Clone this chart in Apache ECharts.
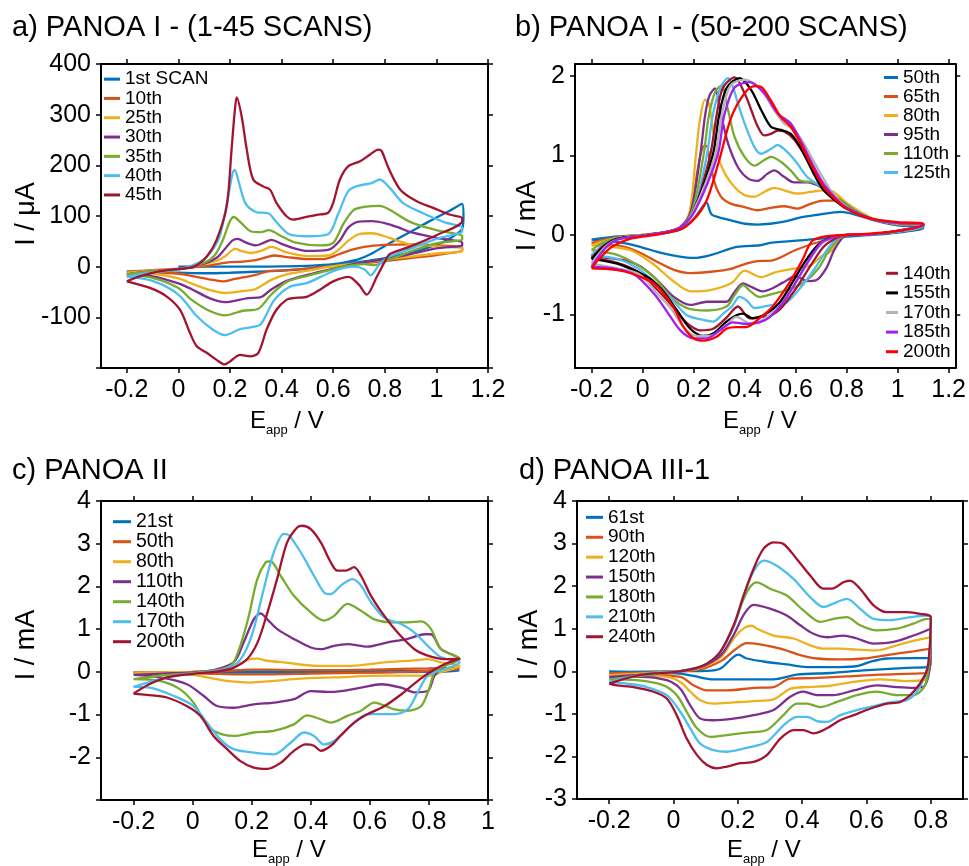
<!DOCTYPE html>
<html><head><meta charset="utf-8">
<script src="https://cdn.jsdelivr.net/npm/echarts@6/dist/echarts.min.js"></script>
<style>html,body{margin:0;padding:0;background:#fff}#c{width:969px;height:866px}</style>
</head><body><div id="c"></div>
<script>
// ---------------- DATA ----------------
// Panel a: PANOA I (1-45 scans), current in µA
const aNames = ['1st SCAN','10th','25th','30th','35th','40th','45th'];
const a01 = [[0,0],[0.1,0],[0.2,0],[0.3,0],[0.4,0.5],[0.5,1.5],[0.55,3],[0.6,5],[0.65,9],[0.7,15],[0.75,26],[0.8,41],[0.85,55],[0.9,69],[0.95,83],[1.0,97],[1.05,110],[1.1,124],[1.105,100],[1.1,75],[1.05,55],[1.0,43],[0.9,28],[0.8,17],[0.7,9],[0.6,2],[0.5,-4],[0.4,-8],[0.3,-10],[0.2,-12],[0.1,-13],[0.0,-12],[-0.1,-11],[-0.2,-10]];
const a10 = [[-0.2,-10],[-0.1,-7],[0,-4],[0.1,1],[0.15,5],[0.2,9],[0.25,10],[0.3,13],[0.33,17],[0.37,22],[0.42,19],[0.5,15],[0.56,15],[0.62,24],[0.67,33],[0.72,39],[0.8,43],[0.9,44],[1.0,42],[1.1,38],[1.1,33],[1.0,23],[0.9,17],[0.8,11],[0.7,6],[0.6,1],[0.5,-4],[0.42,-7],[0.35,-9],[0.3,-16],[0.22,-24],[0.17,-29],[0.12,-25],[0.05,-18],[0,-14],[-0.1,-11],[-0.2,-10]];
const a25 = [[-0.2,-12],[-0.1,-8],[0,-5],[0.1,5],[0.15,12],[0.18,20],[0.22,35],[0.25,30],[0.28,27],[0.32,31],[0.36,39],[0.42,28],[0.5,21],[0.58,22],[0.62,33],[0.66,52],[0.7,64],[0.75,66],[0.8,60],[0.85,51],[0.9,44],[1.0,40],[1.1,36],[1.1,31],[1.0,26],[0.9,20],[0.8,14],[0.7,7],[0.6,1],[0.5,-8],[0.42,-15],[0.36,-26],[0.3,-44],[0.25,-48],[0.18,-52],[0.12,-46],[0.05,-33],[0,-23],[-0.1,-14],[-0.2,-12]];
const a30 = [[-0.2,-15],[-0.1,-9],[0,-5],[0.1,6],[0.15,18],[0.18,35],[0.21,52],[0.23,55],[0.26,48],[0.3,42],[0.33,47],[0.36,53],[0.4,45],[0.45,36],[0.5,31],[0.58,33],[0.62,48],[0.66,78],[0.7,89],[0.75,90],[0.8,86],[0.85,78],[0.9,68],[1.0,57],[1.1,47],[1.1,42],[1.0,36],[0.9,25],[0.8,15],[0.7,7],[0.6,-4],[0.5,-16],[0.42,-28],[0.36,-45],[0.32,-60],[0.27,-62],[0.18,-70],[0.12,-62],[0.05,-44],[0,-33],[-0.1,-19],[-0.2,-15]];
const a35 = [[-0.2,-15],[-0.1,-9],[0,-5],[0.1,8],[0.14,22],[0.17,50],[0.2,90],[0.215,98],[0.24,88],[0.28,70],[0.32,68],[0.35,72],[0.4,60],[0.45,48],[0.55,42],[0.6,47],[0.64,85],[0.68,112],[0.72,118],[0.78,120],[0.82,112],[0.9,88],[1.0,72],[1.1,60],[1.1,54],[1.0,46],[0.9,30],[0.8,10],[0.76,3],[0.72,5],[0.65,1],[0.6,-5],[0.5,-18],[0.42,-30],[0.36,-55],[0.31,-83],[0.25,-87],[0.18,-96],[0.12,-87],[0.05,-65],[0,-42],[-0.1,-22],[-0.2,-16]];
const a40 = [[-0.2,-20],[-0.1,-11],[0,-6],[0.08,8],[0.12,25],[0.16,60],[0.19,130],[0.21,185],[0.218,191],[0.235,165],[0.26,125],[0.3,108],[0.35,105],[0.38,88],[0.43,64],[0.5,60],[0.58,64],[0.62,105],[0.66,150],[0.7,160],[0.75,165],[0.78,172],[0.82,155],[0.87,126],[0.95,105],[1.03,88],[1.1,77],[1.1,70],[1.0,55],[0.9,35],[0.82,20],[0.78,5],[0.745,-17],[0.72,-5],[0.68,0],[0.6,-9],[0.5,-32],[0.43,-40],[0.37,-67],[0.32,-113],[0.28,-120],[0.24,-123],[0.18,-135],[0.13,-123],[0.07,-97],[0,-55],[-0.1,-28],[-0.2,-20]];
const a45 = [[-0.2,-29],[-0.15,-19],[-0.07,-9],[0,-5],[0.06,0],[0.11,20],[0.148,53],[0.187,119],[0.206,231],[0.219,310],[0.226,334],[0.245,297],[0.265,231],[0.29,172],[0.33,158],[0.355,152],[0.38,126],[0.42,99],[0.445,93],[0.5,99],[0.55,103],[0.58,106],[0.6,126],[0.626,172],[0.658,198],[0.704,208],[0.742,221],[0.775,231],[0.788,228],[0.814,195],[0.86,152],[0.924,129],[0.988,116],[1.05,103],[1.1,96],[1.1,90],[1.0,62],[0.9,40],[0.82,25],[0.8,10],[0.77,-19],[0.73,-55],[0.7,-36],[0.66,-20],[0.6,-29],[0.55,-45],[0.5,-59],[0.445,-62],[0.42,-65],[0.38,-85],[0.342,-124],[0.31,-170],[0.278,-177],[0.239,-174],[0.2,-187],[0.18,-193],[0.148,-184],[0.11,-170],[0.071,-157],[0.045,-131],[0.006,-85],[-0.045,-59],[-0.11,-42],[-0.2,-29]];

// Panel b: PANOA I (50-200 scans), current in mA
const bNamesTop = ['50th','65th','80th','95th','110th','125th'];
const bNamesBottom = ['140th','155th','170th','185th','200th'];
const b050 = [[-0.2,-0.06],[-0.1,-0.02],[0,0],[0.1,0.03],[0.15,0.07],[0.2,0.2],[0.23,0.33],[0.25,0.41],[0.27,0.26],[0.3,0.22],[0.35,0.18],[0.4,0.14],[0.45,0.13],[0.5,0.14],[0.56,0.17],[0.62,0.22],[0.68,0.25],[0.78,0.29],[0.85,0.24],[0.9,0.19],[1.0,0.12],[1.1,0.1],[1.1,0.08],[1.0,0.03],[0.9,0.0],[0.8,-0.02],[0.65,-0.06],[0.5,-0.1],[0.46,-0.13],[0.37,-0.15],[0.27,-0.25],[0.2,-0.29],[0.14,-0.27],[0.077,-0.23],[-0.01,-0.15],[-0.077,-0.1],[-0.2,-0.06]];
const b065 = [[-0.2,-0.1],[-0.12,-0.04],[0,0],[0.1,0.04],[0.15,0.09],[0.19,0.3],[0.215,0.8],[0.235,1.1],[0.25,1.12],[0.265,0.9],[0.284,0.64],[0.31,0.47],[0.348,0.39],[0.4,0.35],[0.45,0.31],[0.503,0.34],[0.555,0.36],[0.606,0.33],[0.658,0.39],[0.71,0.43],[0.75,0.43],[0.8,0.36],[0.9,0.2],[1.0,0.13],[1.1,0.12],[1.1,0.1],[1.0,0.04],[0.9,0.01],[0.8,-0.01],[0.7,-0.08],[0.6,-0.19],[0.51,-0.32],[0.45,-0.33],[0.406,-0.36],[0.342,-0.43],[0.277,-0.46],[0.187,-0.48],[0.123,-0.44],[0.058,-0.34],[-0.006,-0.23],[-0.07,-0.15],[-0.2,-0.1]];
const b080 = [[-0.2,-0.13],[-0.12,-0.05],[0,0],[0.1,0.04],[0.15,0.1],[0.185,0.3],[0.209,1.0],[0.225,1.45],[0.245,1.7],[0.26,1.65],[0.275,1.35],[0.297,0.98],[0.323,0.77],[0.361,0.6],[0.4,0.5],[0.439,0.48],[0.477,0.54],[0.516,0.59],[0.555,0.56],[0.606,0.52],[0.658,0.54],[0.71,0.56],[0.75,0.54],[0.8,0.4],[0.9,0.21],[1.0,0.14],[1.1,0.13],[1.1,0.11],[1.0,0.04],[0.9,0.01],[0.8,0.0],[0.77,-0.05],[0.74,-0.2],[0.7,-0.27],[0.66,-0.38],[0.6,-0.42],[0.52,-0.47],[0.465,-0.53],[0.4,-0.45],[0.35,-0.6],[0.27,-0.69],[0.19,-0.71],[0.116,-0.57],[0.039,-0.36],[-0.05,-0.19],[-0.2,-0.13]];
const b095 = [[-0.2,-0.27],[-0.15,-0.12],[-0.1,-0.05],[0,-0.01],[0.1,0.04],[0.15,0.1],[0.19,0.3],[0.226,1.0],[0.245,1.5],[0.262,1.75],[0.284,1.84],[0.3,1.65],[0.31,1.48],[0.335,1.15],[0.374,0.85],[0.413,0.71],[0.452,0.68],[0.49,0.77],[0.516,0.81],[0.555,0.73],[0.594,0.66],[0.645,0.66],[0.7,0.6],[0.77,0.45],[0.85,0.27],[0.95,0.16],[1.1,0.13],[1.1,0.11],[1.0,0.04],[0.9,0.01],[0.8,0.0],[0.78,-0.05],[0.75,-0.2],[0.72,-0.42],[0.68,-0.57],[0.645,-0.58],[0.6,-0.52],[0.55,-0.6],[0.51,-0.67],[0.47,-0.71],[0.43,-0.66],[0.394,-0.61],[0.36,-0.72],[0.329,-0.84],[0.252,-0.84],[0.187,-0.88],[0.123,-0.78],[0.058,-0.57],[-0.006,-0.4],[-0.07,-0.32],[-0.2,-0.27]];
const b110 = [[-0.2,-0.19],[-0.15,-0.09],[-0.1,-0.04],[0,-0.01],[0.1,0.04],[0.15,0.1],[0.195,0.3],[0.239,1.0],[0.26,1.5],[0.285,1.8],[0.31,1.88],[0.335,1.57],[0.361,1.23],[0.4,0.98],[0.439,0.87],[0.477,0.94],[0.503,0.98],[0.542,0.92],[0.581,0.81],[0.619,0.68],[0.671,0.66],[0.72,0.58],[0.78,0.42],[0.85,0.27],[0.95,0.16],[1.1,0.13],[1.1,0.11],[1.0,0.04],[0.9,0.01],[0.8,0.0],[0.77,-0.05],[0.73,-0.2],[0.69,-0.42],[0.64,-0.58],[0.58,-0.68],[0.51,-0.74],[0.458,-0.78],[0.42,-0.7],[0.394,-0.63],[0.36,-0.76],[0.329,-0.9],[0.252,-0.95],[0.174,-0.92],[0.11,-0.78],[0.045,-0.53],[-0.03,-0.36],[-0.1,-0.25],[-0.2,-0.19]];
const b125 = [[-0.2,-0.25],[-0.15,-0.12],[-0.1,-0.05],[0,-0.01],[0.1,0.04],[0.15,0.1],[0.2,0.3],[0.252,1.0],[0.275,1.5],[0.305,1.85],[0.335,1.97],[0.355,1.85],[0.374,1.65],[0.4,1.4],[0.439,1.1],[0.465,1.02],[0.503,1.08],[0.529,1.13],[0.568,1.04],[0.606,0.9],[0.645,0.73],[0.684,0.64],[0.74,0.5],[0.8,0.35],[0.9,0.2],[1.0,0.14],[1.1,0.13],[1.1,0.11],[1.0,0.04],[0.9,0.01],[0.8,0.0],[0.76,-0.05],[0.72,-0.2],[0.68,-0.4],[0.62,-0.66],[0.56,-0.86],[0.51,-0.88],[0.439,-0.92],[0.41,-0.83],[0.38,-0.78],[0.35,-0.9],[0.316,-0.99],[0.277,-1.09],[0.226,-1.06],[0.174,-1.01],[0.123,-0.84],[0.058,-0.63],[-0.02,-0.42],[-0.1,-0.3],[-0.2,-0.25]];
const b140 = [[-0.2,-0.29],[-0.15,-0.13],[-0.1,-0.05],[0,-0.01],[0.1,0.04],[0.15,0.1],[0.2,0.3],[0.265,1.0],[0.29,1.5],[0.315,1.85],[0.361,1.98],[0.4,1.78],[0.426,1.57],[0.452,1.36],[0.477,1.25],[0.503,1.27],[0.53,1.31],[0.555,1.3],[0.594,1.2],[0.632,1.02],[0.684,0.73],[0.74,0.5],[0.8,0.34],[0.9,0.2],[1.0,0.15],[1.1,0.14],[1.1,0.12],[1.0,0.05],[0.9,0.01],[0.8,0.0],[0.76,-0.04],[0.71,-0.15],[0.66,-0.38],[0.6,-0.68],[0.54,-0.93],[0.494,-1.02],[0.458,-1.03],[0.42,-1.05],[0.374,-0.9],[0.329,-1.04],[0.277,-1.18],[0.226,-1.2],[0.174,-1.11],[0.123,-0.92],[0.058,-0.69],[-0.02,-0.46],[-0.1,-0.35],[-0.2,-0.29]];
const b155 = [[-0.2,-0.3],[-0.15,-0.14],[-0.1,-0.05],[0,-0.01],[0.1,0.04],[0.15,0.1],[0.2,0.3],[0.275,1.0],[0.3,1.5],[0.33,1.85],[0.381,1.97],[0.426,1.82],[0.465,1.57],[0.503,1.36],[0.542,1.32],[0.581,1.27],[0.619,1.1],[0.671,0.77],[0.71,0.56],[0.76,0.42],[0.8,0.33],[0.9,0.2],[1.0,0.15],[1.1,0.14],[1.1,0.12],[1.0,0.05],[0.9,0.01],[0.8,0.0],[0.75,-0.02],[0.69,-0.12],[0.632,-0.36],[0.587,-0.6],[0.535,-0.86],[0.484,-0.99],[0.432,-1.05],[0.394,-0.99],[0.368,-1.01],[0.329,-1.09],[0.277,-1.24],[0.239,-1.27],[0.187,-1.18],[0.135,-0.95],[0.084,-0.72],[0.03,-0.55],[-0.03,-0.45],[-0.1,-0.36],[-0.2,-0.3]];
const b170 = [[-0.2,-0.36],[-0.15,-0.16],[-0.1,-0.06],[0,-0.01],[0.1,0.04],[0.15,0.1],[0.2,0.3],[0.284,1.0],[0.31,1.5],[0.345,1.88],[0.4,1.95],[0.465,1.82],[0.516,1.57],[0.555,1.4],[0.594,1.32],[0.632,1.15],[0.684,0.85],[0.74,0.55],[0.8,0.34],[0.9,0.2],[1.0,0.15],[1.1,0.14],[1.1,0.12],[1.0,0.05],[0.9,0.01],[0.8,0.0],[0.75,-0.03],[0.7,-0.12],[0.645,-0.36],[0.6,-0.6],[0.55,-0.85],[0.5,-1.0],[0.458,-1.09],[0.42,-1.11],[0.368,-1.03],[0.329,-1.13],[0.265,-1.27],[0.213,-1.27],[0.161,-1.16],[0.11,-0.92],[0.058,-0.74],[-0.01,-0.5],[-0.1,-0.42],[-0.2,-0.36]];
const b185 = [[-0.2,-0.4],[-0.15,-0.18],[-0.1,-0.06],[0,-0.01],[0.1,0.04],[0.15,0.1],[0.205,0.3],[0.294,1.0],[0.32,1.5],[0.36,1.85],[0.42,1.92],[0.477,1.78],[0.529,1.53],[0.581,1.4],[0.619,1.19],[0.658,0.94],[0.71,0.64],[0.76,0.45],[0.8,0.34],[0.9,0.2],[1.0,0.15],[1.1,0.14],[1.1,0.12],[1.0,0.05],[0.9,0.01],[0.8,0.0],[0.75,-0.03],[0.7,-0.1],[0.65,-0.33],[0.6,-0.6],[0.55,-0.85],[0.5,-1.03],[0.458,-1.1],[0.406,-1.12],[0.355,-1.1],[0.303,-1.2],[0.252,-1.3],[0.2,-1.3],[0.148,-1.2],[0.097,-0.97],[0.045,-0.74],[-0.03,-0.5],[-0.1,-0.43],[-0.2,-0.4]];
const b200 = [[-0.2,-0.42],[-0.17,-0.3],[-0.12,-0.15],[-0.05,-0.05],[0.05,0.0],[0.1,0.03],[0.168,0.1],[0.245,0.39],[0.297,0.9],[0.348,1.48],[0.4,1.78],[0.439,1.87],[0.465,1.86],[0.503,1.69],[0.542,1.48],[0.581,1.36],[0.619,1.15],[0.658,0.9],[0.71,0.6],[0.761,0.43],[0.8,0.33],[0.85,0.25],[0.9,0.2],[1.0,0.16],[1.1,0.15],[1.1,0.13],[1.0,0.05],[0.9,0.02],[0.806,0.0],[0.716,-0.02],[0.664,-0.08],[0.626,-0.32],[0.574,-0.61],[0.51,-0.9],[0.458,-1.05],[0.406,-1.16],[0.368,-1.16],[0.329,-1.18],[0.29,-1.28],[0.239,-1.33],[0.2,-1.3],[0.161,-1.16],[0.123,-0.92],[0.084,-0.74],[0.045,-0.61],[-0.006,-0.53],[-0.071,-0.46],[-0.135,-0.43],[-0.2,-0.42]];

// Panel c: PANOA II, current in mA
const cNames = ['21st','50th','80th','110th','140th','170th','200th'];
const c021 = [[-0.2,-0.01],[0,0],[0.2,0.01],[0.4,0.01],[0.6,0.02],[0.8,0.03],[0.9,0.04],[0.9,0.02],[0.8,0.0],[0.6,-0.01],[0.4,-0.02],[0.2,-0.02],[0,-0.01],[-0.2,-0.01]];
const c050 = [[-0.2,-0.02],[0,0],[0.1,0.02],[0.2,0.05],[0.25,0.05],[0.35,0.04],[0.5,0.04],[0.6,0.05],[0.7,0.07],[0.8,0.08],[0.9,0.1],[0.9,0.06],[0.8,0.02],[0.7,0.0],[0.6,-0.02],[0.4,-0.04],[0.25,-0.06],[0.15,-0.06],[0.05,-0.04],[-0.05,-0.03],[-0.2,-0.02]];
const c080 = [[-0.2,-0.02],[-0.1,-0.01],[0,0],[0.07,0.03],[0.139,0.12],[0.185,0.28],[0.219,0.31],[0.253,0.26],[0.309,0.22],[0.422,0.14],[0.536,0.14],[0.649,0.22],[0.75,0.27],[0.796,0.3],[0.841,0.22],[0.904,0.14],[0.853,0.02],[0.796,-0.09],[0.649,-0.09],[0.479,-0.13],[0.366,-0.16],[0.275,-0.21],[0.196,-0.25],[0.117,-0.21],[0.049,-0.13],[-0.019,-0.05],[-0.2,-0.02]];
const c110 = [[-0.2,-0.07],[-0.1,-0.04],[0,-0.01],[0.07,0.04],[0.139,0.22],[0.173,0.69],[0.207,1.23],[0.23,1.37],[0.253,1.23],[0.287,1.0],[0.343,0.77],[0.4,0.57],[0.434,0.53],[0.479,0.61],[0.524,0.65],[0.592,0.59],[0.66,0.69],[0.728,0.77],[0.785,0.88],[0.807,0.88],[0.841,0.53],[0.904,0.3],[0.853,0.14],[0.819,-0.09],[0.796,-0.45],[0.751,-0.48],[0.706,-0.37],[0.638,-0.29],[0.57,-0.37],[0.502,-0.45],[0.456,-0.47],[0.4,-0.45],[0.343,-0.64],[0.275,-0.72],[0.207,-0.76],[0.139,-0.84],[0.083,-0.8],[0.037,-0.56],[-0.019,-0.29],[-0.11,-0.13],[-0.2,-0.07]];
const c140 = [[-0.2,-0.17],[-0.1,-0.08],[0,-0.03],[0.07,0.03],[0.1,0.06],[0.139,0.22],[0.185,1.16],[0.219,2.17],[0.247,2.56],[0.264,2.59],[0.298,2.25],[0.343,1.78],[0.4,1.39],[0.445,1.2],[0.479,1.31],[0.524,1.59],[0.57,1.43],[0.615,1.23],[0.672,1.16],[0.728,1.16],[0.774,1.18],[0.807,1.0],[0.841,0.53],[0.904,0.3],[0.853,0.14],[0.819,-0.02],[0.8,-0.41],[0.774,-0.8],[0.728,-0.91],[0.683,-0.88],[0.615,-0.72],[0.57,-0.91],[0.524,-1.03],[0.468,-1.19],[0.434,-1.11],[0.388,-1.02],[0.343,-1.23],[0.275,-1.38],[0.207,-1.42],[0.139,-1.5],[0.071,-1.38],[0.037,-1.11],[0.003,-0.72],[-0.042,-0.41],[-0.11,-0.21],[-0.2,-0.17]];
const c170 = [[-0.2,-0.35],[-0.1,-0.15],[0,-0.04],[0.1,0.05],[0.15,0.2],[0.18,0.5],[0.207,1.0],[0.241,1.94],[0.275,2.8],[0.309,3.23],[0.326,3.2],[0.366,2.8],[0.411,2.25],[0.445,1.86],[0.468,1.82],[0.502,2.02],[0.541,2.17],[0.57,2.02],[0.604,1.63],[0.649,1.27],[0.706,1.12],[0.751,0.92],[0.796,0.61],[0.841,0.34],[0.904,0.22],[0.853,0.06],[0.796,-0.09],[0.762,-0.48],[0.728,-0.88],[0.683,-0.99],[0.592,-0.99],[0.547,-1.19],[0.479,-1.62],[0.445,-1.7],[0.411,-1.5],[0.377,-1.42],[0.332,-1.66],[0.275,-1.93],[0.207,-1.89],[0.139,-1.81],[0.094,-1.58],[0.049,-1.19],[0.003,-0.8],[-0.065,-0.56],[-0.144,-0.37],[-0.2,-0.35]];
const c200 = [[-0.2,-0.51],[-0.15,-0.3],[-0.08,-0.12],[0,-0.05],[0.094,0.02],[0.14,0.1],[0.185,0.3],[0.22,0.69],[0.25,1.31],[0.286,2.17],[0.32,3.03],[0.354,3.38],[0.371,3.42],[0.4,3.34],[0.434,3.03],[0.468,2.56],[0.49,2.37],[0.519,2.37],[0.547,2.45],[0.57,2.25],[0.604,1.78],[0.649,1.31],[0.694,0.92],[0.751,0.53],[0.796,0.38],[0.853,0.3],[0.904,0.31],[0.86,0.2],[0.82,0.06],[0.77,-0.17],[0.7,-0.56],[0.65,-0.8],[0.59,-1.0],[0.547,-1.19],[0.5,-1.5],[0.468,-1.73],[0.434,-1.85],[0.411,-1.73],[0.383,-1.7],[0.343,-1.85],[0.298,-2.13],[0.253,-2.27],[0.207,-2.24],[0.162,-2.09],[0.117,-1.81],[0.071,-1.5],[0.026,-1.03],[-0.02,-0.8],[-0.087,-0.6],[-0.155,-0.54],[-0.2,-0.51]];

// Panel d: PANOA III-1, current in mA
const dNames = ['61st','90th','120th','150th','180th','210th','240th'];
const d061 = [[-0.2,-0.02],[0,0],[0.1,0.01],[0.145,0.06],[0.187,0.34],[0.202,0.39],[0.228,0.3],[0.28,0.23],[0.352,0.16],[0.415,0.1],[0.518,0.1],[0.57,0.12],[0.611,0.22],[0.663,0.3],[0.746,0.31],[0.8,0.31],[0.796,0.11],[0.725,0.08],[0.591,0.02],[0.487,-0.04],[0.383,-0.08],[0.311,-0.19],[0.228,-0.19],[0.124,-0.19],[0.062,-0.11],[0.01,-0.05],[-0.2,0]];
const d090 = [[-0.2,-0.05],[0,-0.01],[0.06,0.02],[0.1,0.08],[0.15,0.25],[0.19,0.5],[0.228,0.66],[0.269,0.63],[0.332,0.53],[0.394,0.38],[0.446,0.3],[0.518,0.28],[0.591,0.3],[0.663,0.38],[0.746,0.47],[0.8,0.53],[0.793,-0.02],[0.767,-0.05],[0.642,-0.08],[0.539,-0.12],[0.435,-0.16],[0.363,-0.17],[0.311,-0.37],[0.249,-0.39],[0.166,-0.45],[0.104,-0.45],[0.062,-0.33],[0.021,-0.13],[-0.2,-0.05]];
const d120 = [[-0.2,-0.09],[0,-0.01],[0.06,0.04],[0.1,0.12],[0.15,0.35],[0.19,0.8],[0.22,1.02],[0.245,1.07],[0.259,1.0],[0.311,0.84],[0.373,0.77],[0.425,0.61],[0.466,0.53],[0.518,0.53],[0.57,0.51],[0.632,0.49],[0.694,0.61],[0.756,0.73],[0.8,0.8],[0.796,0.06],[0.777,-0.21],[0.725,-0.23],[0.642,-0.19],[0.56,-0.25],[0.487,-0.34],[0.415,-0.37],[0.363,-0.41],[0.311,-0.66],[0.249,-0.7],[0.187,-0.73],[0.124,-0.76],[0.083,-0.68],[0.052,-0.48],[0.021,-0.25],[-0.021,-0.13],[-0.2,-0.09]];
const d150 = [[-0.2,-0.13],[0,-0.02],[0.06,0.05],[0.1,0.14],[0.15,0.4],[0.19,0.9],[0.22,1.35],[0.249,1.56],[0.3,1.47],[0.352,1.31],[0.394,1.08],[0.435,0.88],[0.477,0.8],[0.528,0.84],[0.57,0.77],[0.622,0.65],[0.684,0.69],[0.746,0.84],[0.8,1.0],[0.798,0.22],[0.782,-0.33],[0.746,-0.39],[0.694,-0.37],[0.632,-0.33],[0.56,-0.45],[0.497,-0.56],[0.446,-0.56],[0.404,-0.48],[0.363,-0.6],[0.311,-0.91],[0.249,-1.03],[0.187,-1.11],[0.124,-1.15],[0.083,-1.11],[0.052,-0.8],[0.021,-0.41],[-0.021,-0.21],[-0.104,-0.13],[-0.2,-0.13]];
const d180 = [[-0.2,-0.19],[0,-0.02],[0.062,0.06],[0.104,0.18],[0.145,0.45],[0.187,1.05],[0.218,1.7],[0.24,2.0],[0.259,2.09],[0.3,1.94],[0.352,1.78],[0.404,1.43],[0.456,1.16],[0.497,1.23],[0.539,1.27],[0.58,1.08],[0.632,0.96],[0.694,1.0],[0.746,1.12],[0.788,1.23],[0.8,1.22],[0.796,0.3],[0.782,-0.33],[0.746,-0.56],[0.694,-0.56],[0.632,-0.48],[0.57,-0.56],[0.508,-0.72],[0.456,-0.84],[0.415,-0.76],[0.383,-0.76],[0.342,-1.03],[0.29,-1.38],[0.228,-1.44],[0.166,-1.5],[0.114,-1.54],[0.073,-1.34],[0.041,-0.95],[0.01,-0.56],[-0.031,-0.33],[-0.114,-0.21],[-0.2,-0.19]];
const d210 = [[-0.2,-0.25],[-0.1,-0.07],[0,-0.02],[0.062,0.06],[0.104,0.18],[0.145,0.45],[0.187,1.05],[0.218,1.78],[0.249,2.35],[0.28,2.6],[0.321,2.48],[0.373,2.17],[0.425,1.74],[0.466,1.51],[0.497,1.59],[0.539,1.7],[0.58,1.47],[0.622,1.23],[0.674,1.2],[0.736,1.27],[0.788,1.31],[0.8,1.27],[0.796,0.38],[0.782,-0.09],[0.756,-0.48],[0.725,-0.68],[0.684,-0.72],[0.632,-0.8],[0.57,-0.91],[0.518,-1.03],[0.477,-1.19],[0.446,-1.17],[0.415,-1.07],[0.383,-1.07],[0.342,-1.27],[0.29,-1.66],[0.228,-1.8],[0.166,-1.89],[0.124,-1.85],[0.083,-1.7],[0.052,-1.34],[0.021,-0.95],[-0.021,-0.56],[-0.083,-0.37],[-0.145,-0.29],[-0.2,-0.25]];
const d240 = [[-0.2,-0.29],[-0.1,-0.08],[0,-0.02],[0.062,0.06],[0.104,0.18],[0.145,0.45],[0.187,1.08],[0.218,1.78],[0.249,2.41],[0.28,2.88],[0.311,3.03],[0.342,2.99],[0.383,2.64],[0.425,2.25],[0.466,1.94],[0.497,1.95],[0.528,2.09],[0.549,2.13],[0.58,1.94],[0.622,1.55],[0.663,1.39],[0.725,1.39],[0.767,1.35],[0.8,1.27],[0.793,0.22],[0.782,-0.09],[0.746,-0.48],[0.705,-0.72],[0.663,-0.76],[0.611,-0.88],[0.56,-1.03],[0.518,-1.15],[0.477,-1.34],[0.435,-1.46],[0.404,-1.38],[0.373,-1.38],[0.332,-1.58],[0.29,-1.97],[0.249,-2.13],[0.207,-2.16],[0.166,-2.24],[0.135,-2.28],[0.104,-2.2],[0.073,-1.97],[0.041,-1.58],[0.01,-1.03],[-0.021,-0.64],[-0.062,-0.48],[-0.124,-0.37],[-0.176,-0.33],[-0.2,-0.29]];

// Tick values / labels
const aXTicks = [-0.2,0,0.2,0.4,0.6,0.8,1,1.2];
const aYTicks = [-200,-100,0,100,200,300,400];
const aYLabels = [-100,0,100,200,300,400];
const bXTicks = [-0.2,0,0.2,0.4,0.6,0.8,1,1.2];
const bYTicks = [-1,0,1,2];
const cXTicks = [-0.2,0,0.2,0.4,0.6,0.8,1];
const cYTicks = [-3,-2,-1,0,1,2,3,4];
const cYLabels = [-2,-1,0,1,2,3,4];
const dXTicks = [-0.2,0,0.2,0.4,0.6,0.8];
const dYTicks = [-3,-2,-1,0,1,2,3,4];

// ---------------- STYLE / LAYOUT ----------------
const FONT = "'Liberation Sans', Arial, Helvetica, sans-serif";
const M = {blue:'#0072BD', orange:'#D95319', yellow:'#EDB120', purple:'#7E2F8E', green:'#77AC30', cyan:'#4DBEEE', maroon:'#A2142F'};
const panels = [
  {key:'a', grid:{left:101, top:64, width:387, height:304}, x:[-0.3,1.2], y:[-200,400],
   xt:aXTicks, xl:aXTicks, yt:aYTicks, yl:aYLabels,
   curves:[a01,a10,a25,a30,a35,a40,a45], names:aNames,
   colors:[M.blue,M.orange,M.yellow,M.purple,M.green,M.cyan,M.maroon]},
  {key:'b', grid:{left:575, top:64, width:385, height:304}, x:[-0.265,1.226], y:[-1.673,2.148],
   xt:bXTicks, xl:bXTicks, yt:bYTicks, yl:bYTicks,
   curves:[b050,b065,b080,b095,b110,b125,b140,b155,b170,b185,b200], names:bNamesTop.concat(bNamesBottom),
   colors:[M.blue,M.orange,M.yellow,M.purple,M.green,M.cyan,M.maroon,'#000000','#B4B4B4','#A020F0','#FF0000']},
  {key:'c', grid:{left:101, top:501, width:387, height:299}, x:[-0.31,1.0], y:[-3,4],
   xt:cXTicks, xl:cXTicks, yt:cYTicks, yl:cYLabels,
   curves:[c021,c050,c080,c110,c140,c170,c200], names:cNames,
   colors:[M.blue,M.orange,M.yellow,M.purple,M.green,M.cyan,M.maroon]},
  {key:'d', grid:{left:577, top:501, width:386, height:298}, x:[-0.3,0.9], y:[-3,4],
   xt:dXTicks, xl:dXTicks, yt:dYTicks, yl:dYTicks,
   curves:[d061,d090,d120,d150,d180,d210,d240], names:dNames,
   colors:[M.blue,M.orange,M.yellow,M.purple,M.green,M.cyan,M.maroon]}
];

const grid = [], xAxis = [], yAxis = [], series = [];
const lineAx = {show:true, onZero:false, lineStyle:{color:'#000', width:2}};
panels.forEach((p, i) => {
  grid.push(Object.assign({containLabel:false}, p.grid));
  const fmt = v => String(+(+v).toFixed(2));
  xAxis.push({type:'value', gridIndex:i, min:p.x[0], max:p.x[1], position:'bottom',
    axisLine:lineAx, splitLine:{show:false},
    axisTick:{show:true, inside:false, length:5, customValues:p.xt, lineStyle:{color:'#000', width:1.5}},
    axisLabel:{show:true, customValues:p.xl, formatter:fmt, fontSize:25, fontFamily:FONT, color:'#000', margin:10}});
  xAxis.push({type:'value', gridIndex:i, min:p.x[0], max:p.x[1], position:'top',
    axisLine:lineAx, splitLine:{show:false},
    axisTick:{show:true, inside:false, length:5, customValues:p.xt, lineStyle:{color:'#000', width:1.5}},
    axisLabel:{show:false}});
  yAxis.push({type:'value', gridIndex:i, min:p.y[0], max:p.y[1], position:'left',
    axisLine:lineAx, splitLine:{show:false},
    axisTick:{show:true, inside:false, length:5, customValues:p.yt, lineStyle:{color:'#000', width:1.5}},
    axisLabel:{show:true, customValues:p.yl, formatter:fmt, fontSize:25, fontFamily:FONT, color:'#000', margin:10}});
  yAxis.push({type:'value', gridIndex:i, min:p.y[0], max:p.y[1], position:'right',
    axisLine:lineAx, splitLine:{show:false},
    axisTick:{show:true, inside:false, length:5, customValues:p.yt, lineStyle:{color:'#000', width:1.5}},
    axisLabel:{show:false}});
  p.curves.forEach((data, k) => {
    series.push({type:'line', name:p.key + '|' + p.names[k], xAxisIndex:2*i, yAxisIndex:2*i,
      data:data, smooth:0.3, symbol:'none', clip:true,
      lineStyle:{width:2.3, color:p.colors[k]}, itemStyle:{color:p.colors[k]}, z:2+k});
  });
});

function leg(key, names, left, top, iw, fs, lh) {
  return {orient:'vertical', left, top, itemWidth:iw, itemHeight:3, itemGap:0, icon:'rect',
    selectedMode:false, padding:0,
    data:names.map(n => key + '|' + n),
    formatter:n => n.slice(2),
    textStyle:{fontSize:fs, lineHeight:lh, fontFamily:FONT, color:'#000'}};
}
const legend = [
  leg('a', aNames, 104, 69.5, 16, 19, 19.3),
  leg('b', bNamesTop, 884, 68, 14, 19, 18.3),
  leg('b', bNamesBottom, 886, 263.5, 12, 19, 19.6),
  leg('c', cNames, 113, 511.7, 18, 19.5, 20),
  leg('d', dNames, 586, 507.4, 17, 19, 19.9)
];

function txt(x, y, text, size, align, rot) {
  return {type:'text', x, y, rotation:rot||0, silent:true, z:100,
    style:{text, fontSize:size, fontFamily:FONT, fill:'#000', align:align||'left', verticalAlign:'middle'}};
}
function xname(left, ymid) {
  return [txt(left, ymid, 'E', 24), txt(left + 16, ymid + 9, 'app', 13), txt(left + 37.7, ymid, ' / V', 24)];
}
const graphic = [
  txt(12, 28, 'a) PANOA I - (1-45 SCANS)', 29),
  txt(515, 28, 'b) PANOA I - (50-200 SCANS)', 29),
  txt(12, 471, 'c) PANOA II', 29),
  txt(519, 471, 'd) PANOA III-1', 29),
  txt(27, 214, 'I / μA', 27, 'center', Math.PI/2),
  txt(528, 216, 'I / mA', 27, 'center', Math.PI/2),
  txt(27, 645, 'I / mA', 27, 'center', Math.PI/2),
  txt(530, 645, 'I / mA', 27, 'center', Math.PI/2)
].concat(xname(250, 421), xname(723, 421), xname(252, 850), xname(727, 850));

const chart = echarts.init(document.getElementById('c'), null, {renderer:'canvas'});
chart.setOption({animation:false, backgroundColor:'#fff', grid, xAxis, yAxis, series, legend, graphic});
</script>
</body></html>
